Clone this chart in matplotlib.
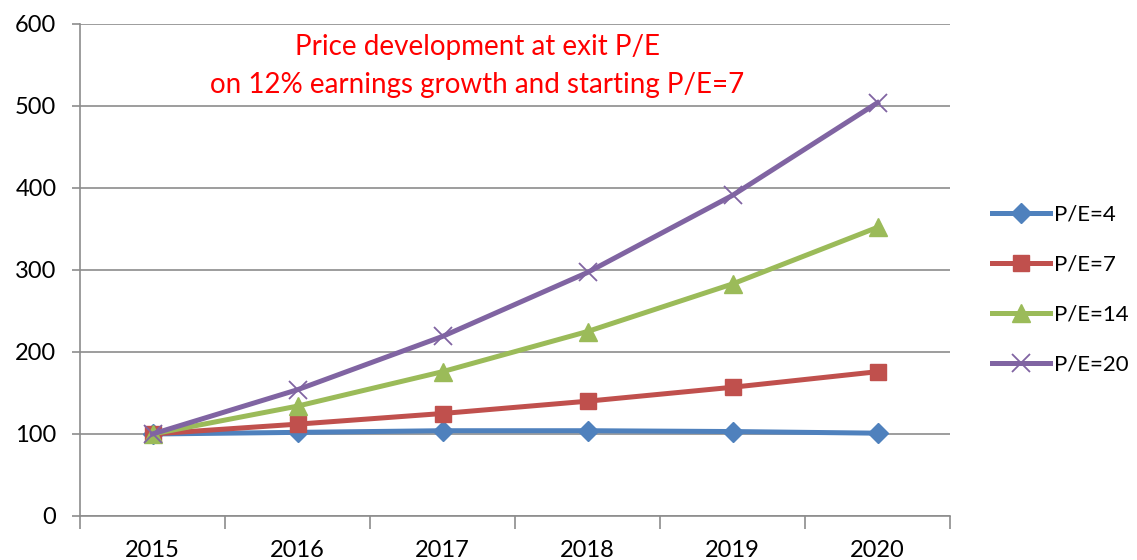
import numpy as np
import matplotlib.pyplot as plt
from matplotlib.ticker import FixedLocator

years = ['2015', '2016', '2017', '2018', '2019', '2020']
pe4 = [100, 102, 104, 104, 103, 101]
pe7 = [100, 112, 125, 140, 157, 176]
pe14 = [100, 134, 176, 225, 283, 352]
pe20 = [100, 154, 219, 297, 391, 504]
labels = ['P/E=4', 'P/E=7', 'P/E=14', 'P/E=20']

plt.rcParams['font.family'] = ['Lato', 'DejaVu Sans']

fig = plt.figure(figsize=(11.37, 5.6), dpi=100)
ax = fig.add_axes([80 / 1137, 44 / 560, 870 / 1137, 492 / 560])

x = np.arange(len(years))
ax.plot(x, pe4, color='#4F81BD', lw=3.6, marker='D', ms=10, label=labels[0])
ax.plot(x, pe7, color='#C0504D', lw=3.6, marker='s', ms=11, label=labels[1])
ax.plot(x, pe14, color='#9BBB59', lw=3.6, marker='^', ms=13, label=labels[2])
ax.plot(x, pe20, color='#8064A2', lw=3.6, marker='x', ms=13, mew=1.3,
        label=labels[3])

ax.set_xlim(-0.5, len(years) - 0.5)
ax.set_ylim(0, 600)
ax.set_yticks(range(0, 601, 100))
ax.yaxis.grid(True, color='#8c8c8c', lw=1.2)
ax.set_axisbelow(True)

ax.set_xticks(x)
ax.set_xticklabels(years)
ax.xaxis.set_minor_locator(FixedLocator(np.arange(-0.5, len(years), 1)))
ax.tick_params(axis='x', which='major', length=0, pad=17, labelsize=17)
ax.tick_params(axis='x', which='minor', length=9, width=1.2, color='#8c8c8c')
ax.tick_params(axis='y', length=6, width=1.2, color='#8c8c8c', labelsize=17,
               pad=11)

for s in ['top', 'right']:
    ax.spines[s].set_visible(False)
for s in ['left', 'bottom']:
    ax.spines[s].set_color('#8c8c8c')
    ax.spines[s].set_linewidth(1.2)

ax.text(0.457, 0.915, 'Price development at exit P/E\non 12% earnings growth and starting P/E=7',
        transform=ax.transAxes, ha='center', va='center', color='red',
        fontsize=20, linespacing=1.6,
        bbox=dict(facecolor='white', edgecolor='none', pad=5))

ax.legend(loc='center left', bbox_to_anchor=(1.038, 0.46), frameon=False,
          fontsize=16, handlelength=2.6, handletextpad=0.2,
          labelspacing=1.35, borderaxespad=0)

plt.savefig('out.png', dpi=100)
